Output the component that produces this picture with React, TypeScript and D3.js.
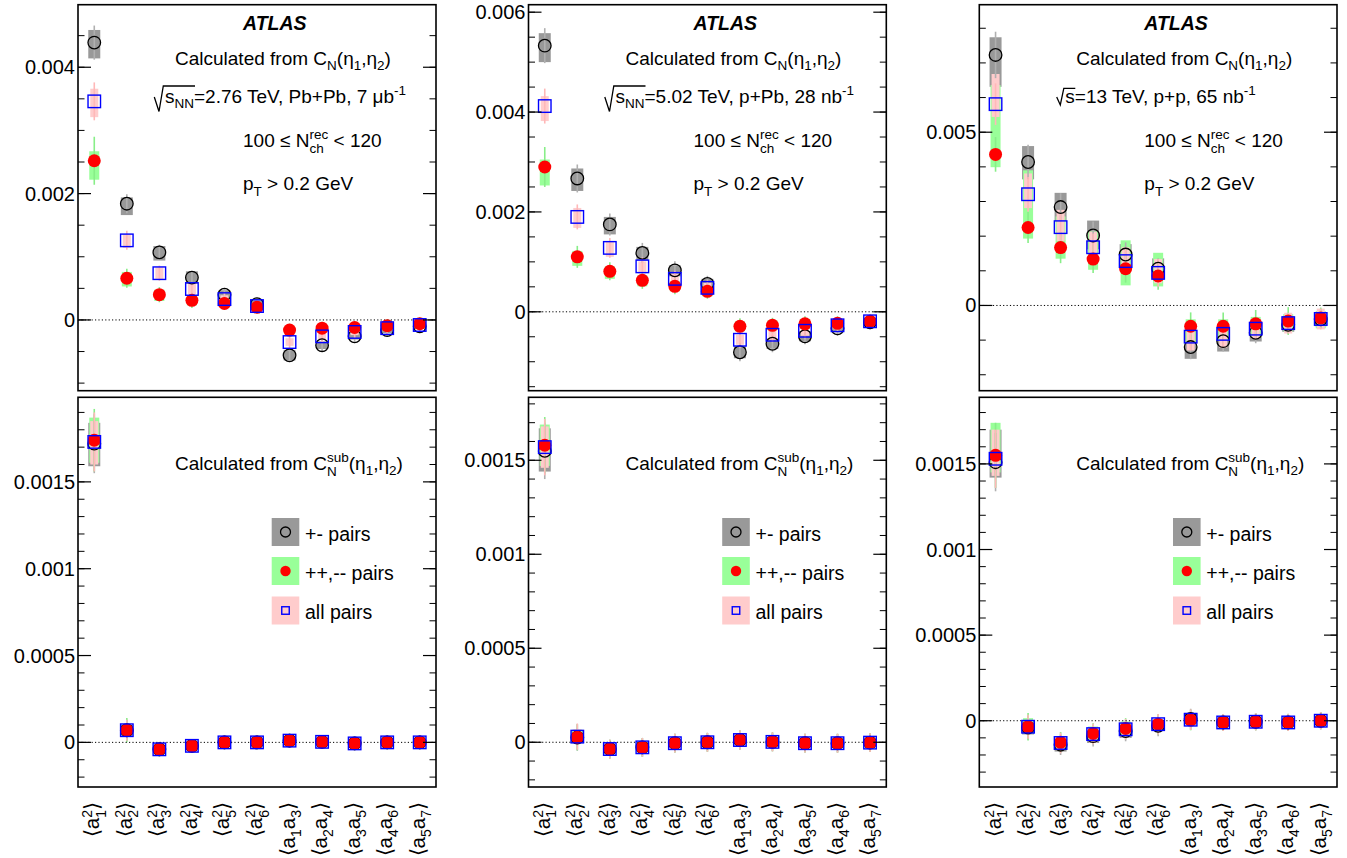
import React from "react";
import * as d3 from "d3";

// ---------- DATA ----------
// each point: [value, systematic down, systematic up, statistical]
type Pt = [number, number, number, number];

const categories = ["a1a1", "a2a2", "a3a3", "a4a4", "a5a5", "a6a6", "a1a3", "a2a4", "a3a5", "a4a6", "a5a7"];
const squareSubs = ["1", "2", "3", "4", "5", "6"];
const pairSubs: [string, string][] = [["1", "3"], ["2", "4"], ["3", "5"], ["4", "6"], ["5", "7"]];
const seriesNames = ["+- pairs", "++,-- pairs", "all pairs"];

// Pb+Pb 2.76 TeV, from C_N
const pbpbRawOpp: Pt[] = [
  [0.00439, 0.00025, 0.0002, 0.00027], [0.00184, 0.00018, 0.0001, 0.00015], [0.00107, 0.00013, 0.0001, 0.00012],
  [0.00067, 0.0001, 0.0001, 0.0001], [0.0004, 0.00007, 0.00007, 0.0001], [0.00025, 0.00006, 0.00006, 0.0001],
  [-0.00056, 0.00008, 0.00008, 0.0001], [-0.0004, 0.00006, 0.00006, 0.0001], [-0.00026, 0.00005, 0.00005, 0.0001],
  [-0.00016, 0.00005, 0.00005, 0.0001], [-0.0001, 0.00004, 0.00004, 0.0001],
];
const pbpbRawSame: Pt[] = [
  [0.00252, 0.0003, 0.00015, 0.00038], [0.00066, 0.00013, 0.0001, 0.00015], [0.0004, 0.0001, 0.00008, 0.00012],
  [0.00031, 0.00008, 0.00008, 0.00012], [0.00026, 0.00006, 0.00006, 0.0001], [0.0002, 0.00005, 0.00005, 0.0001],
  [-0.00016, 0.00006, 0.00006, 0.0001], [-0.00013, 0.00005, 0.00005, 0.0001], [-0.00012, 0.00005, 0.00005, 0.0001],
  [-0.00009, 0.00004, 0.00004, 0.0001], [-0.00006, 0.00004, 0.00004, 0.0001],
];
const pbpbRawAll: Pt[] = [
  [0.00346, 0.00025, 0.0002, 0.0003], [0.00126, 0.00012, 0.0001, 0.00015], [0.00074, 0.0001, 0.0001, 0.00012],
  [0.00049, 0.00008, 0.00008, 0.0001], [0.00033, 0.00006, 0.00006, 0.0001], [0.00022, 0.00005, 0.00005, 0.0001],
  [-0.00035, 0.00006, 0.00006, 0.0001], [-0.00026, 0.00005, 0.00005, 0.0001], [-0.00019, 0.00005, 0.00005, 0.0001],
  [-0.00013, 0.00004, 0.00004, 0.0001], [-0.00008, 0.00004, 0.00004, 0.0001],
];

// p+Pb 5.02 TeV, from C_N
const ppbRawOpp: Pt[] = [
  [0.00533, 0.00033, 0.00025, 0.00035], [0.00267, 0.00025, 0.0002, 0.00028], [0.00175, 0.0002, 0.00015, 0.00022],
  [0.00118, 0.00015, 0.00012, 0.0002], [0.00083, 0.00012, 0.0001, 0.00018], [0.00056, 0.0001, 0.0001, 0.00016],
  [-0.00081, 0.00012, 0.00012, 0.00018], [-0.00064, 0.0001, 0.0001, 0.00017], [-0.00049, 0.0001, 0.0001, 0.00016],
  [-0.00033, 0.00008, 0.00008, 0.00015], [-0.00021, 0.00007, 0.00007, 0.00014],
];
const ppbRawSame: Pt[] = [
  [0.0029, 0.00037, 0.00015, 0.0004], [0.0011, 0.00018, 0.00012, 0.00022], [0.00081, 0.00015, 0.0001, 0.00018],
  [0.00063, 0.00012, 0.0001, 0.00017], [0.00051, 0.0001, 0.0001, 0.00016], [0.00041, 0.0001, 0.0001, 0.00015],
  [-0.00029, 0.0001, 0.0001, 0.00016], [-0.00027, 0.0001, 0.0001, 0.00015], [-0.00024, 0.0001, 0.0001, 0.00015],
  [-0.00023, 0.00008, 0.00008, 0.00014], [-0.00019, 0.00007, 0.00007, 0.00013],
];
const ppbRawAll: Pt[] = [
  [0.00412, 0.0003, 0.0002, 0.00035], [0.0019, 0.00022, 0.00018, 0.00025], [0.00128, 0.00018, 0.00012, 0.0002],
  [0.00091, 0.00014, 0.0001, 0.00018], [0.00066, 0.00012, 0.0001, 0.00016], [0.00048, 0.0001, 0.0001, 0.00015],
  [-0.00056, 0.0001, 0.0001, 0.00016], [-0.00046, 0.0001, 0.0001, 0.00015], [-0.00038, 0.0001, 0.0001, 0.00015],
  [-0.00027, 0.00008, 0.00008, 0.00014], [-0.00019, 0.00007, 0.00007, 0.00013],
];

// p+p 13 TeV, from C_N
const ppRawOpp: Pt[] = [
  [0.00723, 0.00092, 0.00051, 0.00067], [0.00414, 0.0005, 0.00046, 0.0005], [0.00284, 0.0004, 0.00041, 0.0004],
  [0.00202, 0.0004, 0.00043, 0.0004], [0.00147, 0.00035, 0.0003, 0.00035], [0.00106, 0.0003, 0.0003, 0.0003],
  [-0.0012, 0.00034, 0.0005, 0.00035], [-0.00103, 0.0003, 0.0004, 0.0003], [-0.00079, 0.00025, 0.0003, 0.0003],
  [-0.00056, 0.0002, 0.00025, 0.00025], [-0.0004, 0.0002, 0.0002, 0.00025],
];
const ppRawSame: Pt[] = [
  [0.00436, 0.00037, 0.002, 0.0005], [0.00225, 0.00032, 0.00165, 0.00045], [0.00167, 0.00032, 0.0009, 0.00045],
  [0.00134, 0.00031, 0.0008, 0.0004], [0.00106, 0.00048, 0.00082, 0.0004], [0.00085, 0.0003, 0.00067, 0.0004],
  [-0.0006, 0.0005, 0.0002, 0.0004], [-0.0006, 0.0004, 0.0002, 0.0004], [-0.00053, 0.0004, 0.0002, 0.0004],
  [-0.00045, 0.0003, 0.0002, 0.0004], [-0.00036, 0.0003, 0.0002, 0.0003],
];
const ppRawAll: Pt[] = [
  [0.00581, 0.00037, 0.00087, 0.0006], [0.00321, 0.0004, 0.0006, 0.0005], [0.00226, 0.0004, 0.0005, 0.0004],
  [0.00168, 0.00035, 0.00045, 0.0004], [0.00128, 0.0003, 0.0004, 0.0004], [0.00094, 0.0003, 0.0004, 0.0004],
  [-0.0009, 0.0004, 0.0003, 0.0004], [-0.00082, 0.0004, 0.0003, 0.0004], [-0.00067, 0.0003, 0.0003, 0.0003],
  [-0.00051, 0.0003, 0.0003, 0.0003], [-0.00039, 0.0003, 0.0003, 0.0003],
];

// Pb+Pb, from C_N^sub
const pbpbSubOpp: Pt[] = [
  [0.00172, 0.00013, 0.00012, 0.00017], [0.00007, 0.00003, 0.00003, 0.00006], [-0.00004, 0.00002, 0.00002, 0.00004],
  [-0.00002, 0.00002, 0.00002, 0.00004], [0.0, 0.00002, 0.00002, 0.00004], [0.0, 0.00002, 0.00002, 0.00004],
  [0.00001, 0.00002, 0.00002, 0.00004], [0.000003, 0.00002, 0.00002, 0.00004], [-0.000006, 0.00002, 0.00002, 0.00004],
  [0.0, 0.00002, 0.00002, 0.00004], [0.0, 0.00002, 0.00002, 0.00004],
];
const pbpbSubSame: Pt[] = [
  [0.00174, 0.00013, 0.00013, 0.00018], [0.00007, 0.00003, 0.00003, 0.00007], [-0.00004, 0.00002, 0.00002, 0.00004],
  [-0.00002, 0.00002, 0.00002, 0.00004], [0.0, 0.00002, 0.00002, 0.00004], [0.0, 0.00002, 0.00002, 0.00004],
  [0.00001, 0.00002, 0.00002, 0.00004], [0.000003, 0.00002, 0.00002, 0.00004], [-0.000006, 0.00002, 0.00002, 0.00004],
  [0.0, 0.00002, 0.00002, 0.00004], [0.0, 0.00002, 0.00002, 0.00004],
];
const pbpbSubAll: Pt[] = [
  [0.00173, 0.00013, 0.00012, 0.00017], [0.00007, 0.00003, 0.00003, 0.00006], [-0.00004, 0.00002, 0.00002, 0.00004],
  [-0.00002, 0.00002, 0.00002, 0.00004], [0.0, 0.00002, 0.00002, 0.00004], [0.0, 0.00002, 0.00002, 0.00004],
  [0.00001, 0.00002, 0.00002, 0.00004], [0.000003, 0.00002, 0.00002, 0.00004], [-0.000006, 0.00002, 0.00002, 0.00004],
  [0.0, 0.00002, 0.00002, 0.00004], [0.0, 0.00002, 0.00002, 0.00004],
];

// p+Pb, from C_N^sub
const ppbSubOpp: Pt[] = [
  [0.00155, 0.00011, 0.00012, 0.00015], [0.000025, 0.00003, 0.00004, 0.00007], [-0.000036, 0.00002, 0.00002, 0.00005],
  [-0.000027, 0.00002, 0.00002, 0.00005], [-0.000005, 0.00002, 0.00002, 0.00005], [0.0, 0.00002, 0.00002, 0.00005],
  [0.000012, 0.00002, 0.00002, 0.00005], [0.000002, 0.00002, 0.00002, 0.00005], [-0.000005, 0.00002, 0.00002, 0.00005],
  [-0.000005, 0.00002, 0.00002, 0.00005], [-0.000002, 0.00002, 0.00002, 0.00005],
];
const ppbSubSame: Pt[] = [
  [0.00158, 0.00011, 0.00011, 0.00015], [0.000027, 0.00003, 0.00004, 0.00007], [-0.000036, 0.00002, 0.00002, 0.00005],
  [-0.000027, 0.00002, 0.00002, 0.00005], [-0.000005, 0.00002, 0.00002, 0.00005], [0.0, 0.00002, 0.00002, 0.00005],
  [0.000012, 0.00002, 0.00002, 0.00005], [0.000002, 0.00002, 0.00002, 0.00005], [-0.000005, 0.00002, 0.00002, 0.00005],
  [-0.000005, 0.00002, 0.00002, 0.00005], [-0.000002, 0.00002, 0.00002, 0.00005],
];
const ppbSubAll: Pt[] = [
  [0.00157, 0.00011, 0.00011, 0.00015], [0.00003, 0.00003, 0.00004, 0.00007], [-0.000036, 0.00002, 0.00002, 0.00005],
  [-0.000027, 0.00002, 0.00002, 0.00005], [-0.000005, 0.00002, 0.00002, 0.00005], [0.0, 0.00002, 0.00002, 0.00005],
  [0.000012, 0.00002, 0.00002, 0.00005], [0.000002, 0.00002, 0.00002, 0.00005], [-0.000005, 0.00002, 0.00002, 0.00005],
  [-0.000005, 0.00002, 0.00002, 0.00005], [-0.000002, 0.00002, 0.00002, 0.00005],
];

// p+p, from C_N^sub
const ppSubOpp: Pt[] = [
  [0.00151, 0.00009, 0.00019, 0.00017], [-0.00004, 0.00004, 0.00004, 0.00007], [-0.00014, 0.00004, 0.00003, 0.00006],
  [-0.00009, 0.00004, 0.00003, 0.00006], [-0.00006, 0.00004, 0.00003, 0.00006], [-0.00003, 0.00003, 0.00003, 0.00006],
  [0.00001, 0.00003, 0.00003, 0.00006], [-0.00001, 0.00002, 0.00002, 0.00005], [-0.000006, 0.00002, 0.00002, 0.00005],
  [-0.00001, 0.00002, 0.00002, 0.00005], [0.0, 0.00002, 0.00002, 0.00005],
];
const ppSubSame: Pt[] = [
  [0.00155, 0.0001, 0.00019, 0.00019], [-0.000035, 0.00004, 0.00005, 0.00008], [-0.000126, 0.00004, 0.00003, 0.00006],
  [-0.000074, 0.00004, 0.00004, 0.00006], [-0.000045, 0.00004, 0.00004, 0.00006], [-0.00002, 0.00003, 0.00003, 0.00006],
  [0.000004, 0.00003, 0.00003, 0.00006], [-0.00001, 0.00002, 0.00002, 0.00005], [-0.000006, 0.00002, 0.00002, 0.00005],
  [-0.00001, 0.00002, 0.00002, 0.00005], [0.0, 0.00002, 0.00002, 0.00005],
];
const ppSubAll: Pt[] = [
  [0.00153, 0.0001, 0.00017, 0.00017], [-0.000035, 0.00004, 0.00004, 0.00007], [-0.00013, 0.00004, 0.00003, 0.00006],
  [-0.000078, 0.00005, 0.00004, 0.00006], [-0.00005, 0.00005, 0.00004, 0.00006], [-0.00002, 0.00003, 0.00003, 0.00006],
  [0.000006, 0.00003, 0.00003, 0.00006], [-0.00001, 0.00002, 0.00002, 0.00005], [-0.000006, 0.00002, 0.00002, 0.00005],
  [-0.00001, 0.00002, 0.00002, 0.00005], [0.0, 0.00002, 0.00002, 0.00005],
];

const energyTexts = ["=2.76 TeV, Pb+Pb, 7 \u03BCb", "=5.02 TeV, p+Pb, 28 nb", "=13 TeV, p+p, 65 nb"];
const ETA = "\u03B7";

// ---------- LAYOUT / STYLE ----------
const W = 1347;
const H = 858;
const FONT = "'Liberation Sans', Arial, Helvetica, sans-serif";
const colX: [number, number][] = [[78, 436], [528.5, 886.3], [979.3, 1337]];
const rowY: [number, number][] = [[4.7, 390.7], [397.3, 787]];

const boxColors = ["#999999", "#99ff99", "#ffcccc"];
const statColors = ["#b0b0b0", "#88ee88", "#ffb8b8"];
const boxWidths = [12, 10, 8];

interface PanelCfg {
  col: number;
  row: number;
  domain: [number, number];
  major: number;
  minor: number;
  data: Pt[][];
}

const panels: PanelCfg[] = [
  { col: 0, row: 0, domain: [-0.00112, 0.00499], major: 0.002, minor: 0.0005, data: [pbpbRawOpp, pbpbRawSame, pbpbRawAll] },
  { col: 1, row: 0, domain: [-0.00158, 0.00615], major: 0.002, minor: 0.0005, data: [ppbRawOpp, ppbRawSame, ppbRawAll] },
  { col: 2, row: 0, domain: [-0.00246, 0.00868], major: 0.005, minor: 0.001, data: [ppRawOpp, ppRawSame, ppRawAll] },
  { col: 0, row: 1, domain: [-0.000257, 0.001987], major: 0.0005, minor: 0.0001, data: [pbpbSubOpp, pbpbSubSame, pbpbSubAll] },
  { col: 1, row: 1, domain: [-0.000238, 0.001835], major: 0.0005, minor: 0.0001, data: [ppbSubOpp, ppbSubSame, ppbSubAll] },
  { col: 2, row: 1, domain: [-0.000387, 0.001889], major: 0.0005, minor: 0.0001, data: [ppSubOpp, ppSubSame, ppSubAll] },
];

const fmt = d3.format("~g");

function ticksFor(domain: [number, number], step: number): number[] {
  const k0 = Math.ceil(domain[0] / step - 1e-9);
  const k1 = Math.floor(domain[1] / step + 1e-9);
  return d3.range(k0, k1 + 1).map((k) => +(k * step).toPrecision(10));
}

function Marker({ s, x, y, legend }: { s: number; x: number; y: number; legend?: boolean }) {
  if (s === 0) {
    return <circle cx={x} cy={y} r={legend ? 5 : 6.3} fill="none" stroke="#000" strokeWidth={1.3} />;
  }
  if (s === 1) {
    return <circle cx={x} cy={y} r={legend ? 5.2 : 6.5} fill="#ff0000" />;
  }
  const a = legend ? 7.5 : 12.5;
  return <rect x={x - a / 2} y={y - a / 2} width={a} height={a} fill="none" stroke="#0000ff" strokeWidth={1.4} />;
}

function Panel({ cfg }: { cfg: PanelCfg }) {
  const [x0, x1] = colX[cfg.col];
  const [y0, y1] = rowY[cfg.row];
  const xs = d3.scalePoint<string>().domain(categories).range([x0, x1]).padding(0.5);
  const ys = d3.scaleLinear().domain(cfg.domain).range([y1, y0]);
  const majors = ticksFor(cfg.domain, cfg.major);
  const minors = ticksFor(cfg.domain, cfg.minor);
  const fs = 20;

  return (
    <g>
      {cfg.data.map((ser, s) => (
        <g key={"b" + s}>
          {ser.map((p, i) => {
            const cx = xs(categories[i])!;
            const top = ys(p[0] + p[2]);
            const bot = ys(p[0] - p[1]);
            return (
              <rect key={i} x={cx - boxWidths[s] / 2} y={top} width={boxWidths[s]} height={bot - top} fill={boxColors[s]} />
            );
          })}
        </g>
      ))}
      {cfg.data.map((ser, s) => (
        <g key={"e" + s}>
          {ser.map((p, i) => {
            const cx = xs(categories[i])!;
            return (
              <line key={i} x1={cx} x2={cx} y1={ys(p[0] + p[3])} y2={ys(p[0] - p[3])} stroke={statColors[s]} strokeWidth={1.6} />
            );
          })}
        </g>
      ))}
      <line x1={x0} x2={x1} y1={ys(0)} y2={ys(0)} stroke="#000" strokeWidth={1} strokeDasharray="1.2,2.2" />
      {[0, 1, 2].map((s) => (
        <g key={"m" + s}>
          {cfg.data[s].map((p, i) => (
            <Marker key={i} s={s} x={xs(categories[i])!} y={ys(p[0])} />
          ))}
        </g>
      ))}
      {minors.map((v) => (
        <g key={"mi" + v}>
          <line x1={x0} x2={x0 + 6.5} y1={ys(v)} y2={ys(v)} stroke="#000" strokeWidth={1} />
          <line x1={x1} x2={x1 - 6.5} y1={ys(v)} y2={ys(v)} stroke="#000" strokeWidth={1} />
        </g>
      ))}
      {majors.map((v) => (
        <g key={"ma" + v}>
          <line x1={x0} x2={x0 + 13} y1={ys(v)} y2={ys(v)} stroke="#000" strokeWidth={1.2} />
          <line x1={x1} x2={x1 - 13} y1={ys(v)} y2={ys(v)} stroke="#000" strokeWidth={1.2} />
          <text x={x0 - 3} y={ys(v) + 7} textAnchor="end" fontSize={fs} fontFamily={FONT} fill="#000">
            {fmt(v)}
          </text>
        </g>
      ))}
      <rect x={x0} y={y0} width={x1 - x0} height={y1 - y0} fill="none" stroke="#000" strokeWidth={1.6} />
      {cfg.row === 1 &&
        categories.map((c, i) => {
          const cx = xs(c)!;
          const big = 20.5;
          const small = 14;
          if (i < squareSubs.length) {
            return (
              <text key={c} transform={`translate(${cx + 5},802) rotate(-90)`} textAnchor="end" fontSize={big} fontFamily={FONT} fill="#000">
                {"\u27E8a"}
                <tspan fontSize={small} dy={-7}>2</tspan>
                <tspan fontSize={small} dx={-7.8} dy={13.5}>{squareSubs[i]}</tspan>
                <tspan dy={-6.5}>{"\u27E9"}</tspan>
              </text>
            );
          }
          const [a, b] = pairSubs[i - squareSubs.length];
          return (
            <text key={c} transform={`translate(${cx + 5},802) rotate(-90)`} textAnchor="end" fontSize={big} fontFamily={FONT} fill="#000">
              {"\u27E8a"}
              <tspan fontSize={small} dy={6}>{a}</tspan>
              <tspan dy={-6}>a</tspan>
              <tspan fontSize={small} dy={6}>{b}</tspan>
              <tspan dy={-6}>{"\u27E9"}</tspan>
            </text>
          );
        })}
    </g>
  );
}

function TopInfo({ col }: { col: number }) {
  const L = colX[col][0];
  const fs = 19;
  const sm = 13.5;
  const isPP = col === 2;
  return (
    <g fontFamily={FONT} fill="#000">
      <text x={L + 165} y={30} fontSize={19.5} fontWeight="bold" fontStyle="italic">ATLAS</text>
      <text x={L + 97} y={65} fontSize={fs}>
        Calculated from C
        <tspan fontSize={sm} dy={5}>N</tspan>
        <tspan dy={-5}>{"(" + ETA}</tspan>
        <tspan fontSize={sm} dy={5}>1</tspan>
        <tspan dy={-5}>{"," + ETA}</tspan>
        <tspan fontSize={sm} dy={5}>2</tspan>
        <tspan dy={-5}>)</tspan>
      </text>
      {isPP ? (
        <g>
          <path d={`M${L + 77.4},97 L${L + 81},105 L${L + 84.5},88.3 L${L + 96},88.3`} fill="none" stroke="#000" strokeWidth={1.3} />
          <text x={L + 86} y={103} fontSize={fs}>
            {"s" + energyTexts[col]}
            <tspan fontSize={sm} dy={-8}>-1</tspan>
          </text>
        </g>
      ) : (
        <g>
          <path d={`M${L + 76.3},97 L${L + 81},111.5 L${L + 85.3},86 L${L + 117},86`} fill="none" stroke="#000" strokeWidth={1.3} />
          <text x={L + 87} y={103} fontSize={fs}>
            s<tspan fontSize={sm} dy={5}>NN</tspan>
            <tspan dy={-5}>{energyTexts[col]}</tspan>
            <tspan fontSize={sm} dy={-8}>-1</tspan>
          </text>
        </g>
      )}
      <text x={L + 165} y={147} fontSize={fs}>
        {"100 \u2264 N"}
        <tspan fontSize={sm} dy={-8}>rec</tspan>
        <tspan fontSize={sm} dx={-18.7} dy={14}>ch</tspan>
        <tspan dx={4.5} dy={-6}>{" < 120"}</tspan>
      </text>
      <text x={L + 165} y={190} fontSize={fs}>
        p<tspan fontSize={sm} dy={6}>T</tspan>
        <tspan dy={-6}>{" > 0.2 GeV"}</tspan>
      </text>
    </g>
  );
}

function BottomInfo({ col }: { col: number }) {
  const L = colX[col][0];
  const fs = 19;
  const sm = 13.5;
  const rows = [532, 571, 610.5];
  return (
    <g fontFamily={FONT} fill="#000">
      <text x={L + 97} y={470} fontSize={fs}>
        Calculated from C
        <tspan fontSize={sm} dy={-8}>sub</tspan>
        <tspan fontSize={sm} dx={-21.8} dy={14}>N</tspan>
        <tspan dx={12} dy={-6}>{"(" + ETA}</tspan>
        <tspan fontSize={sm} dy={5}>1</tspan>
        <tspan dy={-5}>{"," + ETA}</tspan>
        <tspan fontSize={sm} dy={5}>2</tspan>
        <tspan dy={-5}>)</tspan>
      </text>
      {seriesNames.map((name, s) => (
        <g key={name}>
          <rect x={L + 193.7} y={rows[s] - 14} width={27.6} height={28} fill={boxColors[s]} />
          <Marker s={s} x={L + 207.5} y={rows[s]} legend />
          <text x={L + 227} y={rows[s] + 8.5} fontSize={19.5}>{name}</text>
        </g>
      ))}
    </g>
  );
}

export default function App() {
  return (
    <svg width={W} height={H} style={{ position: "absolute", left: 0, top: 0, background: "#fff" }}>
      <rect x={0} y={0} width={W} height={H} fill="#fff" />
      {panels.map((p, i) => (
        <Panel key={i} cfg={p} />
      ))}
      {[0, 1, 2].map((c) => (
        <TopInfo key={"t" + c} col={c} />
      ))}
      {[0, 1, 2].map((c) => (
        <BottomInfo key={"b" + c} col={c} />
      ))}
    </svg>
  );
}
